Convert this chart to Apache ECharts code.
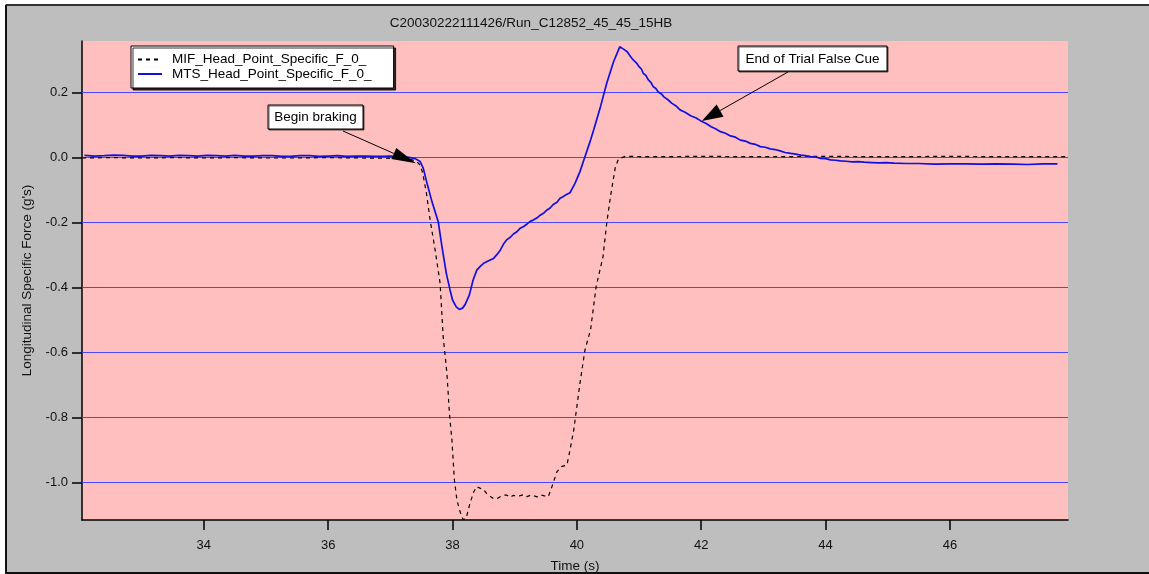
<!DOCTYPE html>
<html><head><meta charset="utf-8">
<script src="https://cdn.jsdelivr.net/npm/echarts@6/dist/echarts.min.js"></script>
<style>html,body{margin:0;padding:0;background:#fff}#c{width:1149px;height:574px}</style>
</head><body><div id="c"></div>
<script>
const titleText = 'C20030222111426/Run_C12852_45_45_15HB';
const xAxisName = 'Time (s)';
const yAxisName = "Longitudinal Specific Force (g's)";
const xTicks = [34, 36, 38, 40, 42, 44, 46];
const yTicks = [-1.0, -0.8, -0.6, -0.4, -0.2, 0.0, 0.2];
const mifName = 'MIF_Head_Point_Specific_F_0_';
const mtsName = 'MTS_Head_Point_Specific_F_0_';

const mifTime = [32.04,32.5,33.0,33.5,34.0,34.5,35.0,35.5,36.0,36.5,
  37.0,37.3,37.42,37.48,37.52,37.58,37.64,37.72,37.80,37.85,
  37.91,37.95,37.99,38.03,38.07,38.12,38.17,38.22,38.28,38.34,
  38.39,38.44,38.50,38.55,38.61,38.66,38.71,38.76,38.82,38.87,
  38.93,38.98,39.04,39.09,39.14,39.20,39.25,39.30,39.36,39.42,
  39.48,39.54,39.60,39.68,39.76,39.84,39.89,39.95,40.00,40.05,
  40.13,40.22,40.31,40.42,40.48,40.54,40.62,40.67,40.78,41.2,
  42,43,44,45,46,47,47.9];
const mifValue = [-0.002,-0.001,-0.002,-0.001,-0.002,-0.001,-0.002,-0.002,-0.001,-0.002,
  -0.003,-0.005,-0.012,-0.024,-0.048,-0.11,-0.193,-0.285,-0.387,-0.553,
  -0.665,-0.788,-0.87,-0.993,-1.054,-1.09,-1.115,-1.11,-1.065,-1.03,
  -1.013,-1.018,-1.022,-1.035,-1.044,-1.05,-1.051,-1.045,-1.04,-1.039,
  -1.046,-1.040,-1.043,-1.041,-1.038,-1.044,-1.040,-1.041,-1.045,-1.039,
  -1.042,-1.044,-1.013,-0.967,-0.951,-0.947,-0.90,-0.839,-0.767,-0.695,
  -0.593,-0.531,-0.398,-0.306,-0.203,-0.121,-0.029,-0.005,0.003,0.002,
  0.003,0.002,0.003,0.002,0.003,0.002,0.002];

const mtsTime = [32.08,32.25,32.4,32.55,32.7,32.85,33.0,33.15,33.3,33.45,
  33.6,33.75,33.9,34.05,34.2,34.35,34.5,34.65,34.8,34.95,
  35.1,35.25,35.4,35.55,35.7,35.85,36.0,36.15,36.3,36.45,
  36.6,36.75,36.9,37.0,37.1,37.2,37.3,37.4,
  37.48,37.53,37.59,37.67,37.77,37.83,37.90,37.96,38.0,38.06,
  38.11,38.16,38.20,38.27,38.33,38.39,38.45,38.50,38.58,38.66,
  38.72,38.77,38.82,38.87,38.93,38.98,39.04,39.09,39.15,39.2,39.25,39.30,39.36,39.41,39.47,39.52,39.57,39.62,
  39.68,39.73,39.77,39.81,39.89,39.97,40.05,40.13,40.22,40.27,40.38,40.48,
  40.59,40.69,40.75,40.81,40.86,40.91,40.96,41.0,41.04,41.07,41.11,41.15,41.19,41.23,41.27,41.31,41.36,
  41.40,41.46,41.53,41.59,41.66,41.74,41.83,41.92,42.01,42.08,42.16,42.23,42.31,42.39,42.47,42.55,42.63,42.71,42.79,42.87,
  42.95,43.03,43.11,43.19,43.27,43.35,43.44,43.52,43.60,43.68,43.76,43.84,43.92,44.0,44.08,44.16,44.24,44.33,44.43,44.52,
  44.62,44.74,44.86,44.98,45.10,45.3,45.5,45.75,46.0,46.25,46.5,46.75,47.0,47.25,47.5,47.73];
const mtsValue = [0.006,0.004,0.005,0.007,0.006,0.004,0.004,0.006,0.005,0.004,
  0.006,0.005,0.004,0.006,0.005,0.004,0.006,0.004,0.004,0.005,
  0.005,0.003,0.003,0.005,0.005,0.003,0.004,0.005,0.003,0.004,
  0.004,0.003,0.003,0.004,0.002,0.002,0.0,-0.004,
  -0.013,-0.034,-0.08,-0.137,-0.198,-0.275,-0.357,-0.408,-0.439,-0.46,
  -0.468,-0.464,-0.454,-0.424,-0.378,-0.347,-0.335,-0.326,-0.318,-0.311,
  -0.298,-0.285,-0.267,-0.254,-0.246,-0.236,-0.228,-0.218,-0.212,-0.205,-0.197,-0.193,-0.186,-0.178,-0.171,-0.162,-0.156,-0.145,
  -0.138,-0.126,-0.122,-0.117,-0.109,-0.08,-0.044,0.002,0.053,0.084,0.156,0.228,
  0.294,0.340,0.333,0.325,0.311,0.299,0.290,0.279,0.271,0.258,0.252,0.238,0.231,0.217,0.212,0.201,0.195,
  0.186,0.178,0.166,0.159,0.146,0.139,0.128,0.121,0.110,0.104,0.094,0.088,0.079,0.074,0.066,0.062,0.053,0.050,0.043,0.040,
  0.033,0.031,0.026,0.024,0.020,0.015,0.012,0.010,0.007,0.005,0.002,0.001,-0.003,-0.004,-0.008,-0.009,-0.011,-0.012,-0.014,-0.013,
  -0.015,-0.016,-0.017,-0.016,-0.018,-0.019,-0.019,-0.021,-0.020,-0.020,-0.021,-0.020,-0.021,-0.022,-0.020,-0.020];

const annotationText = ['Begin braking', 'End of Trial False Cue'];
const annotationX = [37.41, 42.01];
const annotationY = [-0.018, 0.112];

const FONT = "'Liberation Sans', Arial, sans-serif";
const zip = (a, b) => a.map((t, i) => [t, b[i]]);

const chart = echarts.init(document.getElementById('c'), null, {renderer: 'canvas'});
const option = {
  animation: false,
  backgroundColor: '#bebebe',
  textStyle: {fontFamily: FONT},
  grid: {left: 82, top: 41, right: 81, bottom: 54, show: true, backgroundColor: '#ffbfbf', borderWidth: 0,
    containLabel: false, outerBoundsMode: 'none'},
  legend: {
    left: 131, top: 46, orient: 'vertical', selectedMode: false,
    data: [mifName, mtsName],
    backgroundColor: '#fff', borderColor: '#000', borderWidth: 1,
    padding: [6.5, 22, 7, 6], itemWidth: 24, itemHeight: 14, itemGap: 0.5,
    itemStyle: {opacity: 0},
    shadowColor: 'rgba(0,0,0,0.8)', shadowOffsetX: 2, shadowOffsetY: 2, shadowBlur: 0,
    textStyle: {fontFamily: FONT, fontSize: 13.5, color: '#000', padding: [0, 0, 0, 5]}
  },
  xAxis: {
    type: 'value', min: 32.04, max: 47.9,
    name: xAxisName, nameLocation: 'middle', nameGap: 39,
    nameTextStyle: {fontFamily: FONT, fontSize: 13.5, color: '#111'},
    axisLine: {show: true, onZero: false, lineStyle: {color: '#000', width: 1.5}},
    axisTick: {show: true, length: 10, customValues: xTicks, lineStyle: {color: '#000', width: 1.5}},
    axisLabel: {customValues: xTicks, fontSize: 13, color: '#111', margin: 19, fontFamily: FONT, formatter: v => String(v)},
    splitLine: {show: false}
  },
  yAxis: {
    type: 'value', min: -1.116, max: 0.358,
    name: yAxisName, nameLocation: 'middle', nameGap: 44, nameRotate: 90,
    nameTextStyle: {fontFamily: FONT, fontSize: 13.5, color: '#111'},
    axisLine: {show: true, onZero: false, lineStyle: {color: '#000', width: 1.5}},
    axisTick: {show: true, length: 10, customValues: yTicks, lineStyle: {color: '#000', width: 1.5}},
    axisLabel: {customValues: yTicks, fontSize: 13, color: '#111', margin: 14, fontFamily: FONT, formatter: v => v.toFixed(1)},
    splitLine: {show: false}
  },
  series: [
    {
      name: mifName, type: 'line', symbol: 'none', z: 3,
      data: zip(mifTime, mifValue),
      lineStyle: {color: '#000', width: 1.2, type: [4, 4]},
      itemStyle: {color: '#000'}
    },
    {
      name: mtsName, type: 'line', symbol: 'none', z: 4,
      data: zip(mtsTime, mtsValue),
      lineStyle: {color: '#1010e0', width: 1.7},
      itemStyle: {color: '#1010e0'}
    }
  ]
};
chart.setOption(option);

const gridRect = chart.getModel().getComponent('grid').coordinateSystem.getRect();

// frame + title
const graphics = [
  {type: 'rect', shape: {x: 0, y: 0, width: 1149, height: 4}, style: {fill: '#fff'}, z: 100},
  {type: 'rect', shape: {x: 0, y: 0, width: 5, height: 574}, style: {fill: '#fff'}, z: 100},
  {type: 'line', shape: {x1: 6, y1: 5, x2: 1149, y2: 5}, style: {stroke: '#333', lineWidth: 2}, z: 100},
  {type: 'line', shape: {x1: 6, y1: 5, x2: 6, y2: 574}, style: {stroke: '#111', lineWidth: 2}, z: 100},
  {type: 'line', shape: {x1: 6, y1: 573, x2: 1149, y2: 573}, style: {stroke: '#111', lineWidth: 2}, z: 100},
  {type: 'text', x: 531, y: 23, z: 100, style: {text: titleText, font: '13.5px ' + FONT, fill: '#111', align: 'center', verticalAlign: 'middle', textAlign: 'center', textVerticalAlign: 'middle'}}
];

// horizontal grid lines at y ticks (through the axis scale)
yTicks.forEach(v => {
  const py = Math.round(chart.convertToPixel({yAxisIndex: 0}, v)) + 0.5;
  graphics.push({type: 'line', z: 1, silent: true,
    shape: {x1: gridRect.x, y1: py, x2: gridRect.x + gridRect.width, y2: py},
    style: {stroke: '#4848ff', lineWidth: 1}});
});

// annotation boxes (pixel positions) with arrow tails
const boxes = [
  {x: 268, y: 105, w: 95, h: 24, tail: [343, 131], head: 24, hw: 6},
  {x: 738, y: 46, w: 149, h: 25, tail: [788, 72], head: 21, hw: 7}
];
boxes.forEach((b, i) => {
  graphics.push({type: 'rect', z: 110, shape: {x: b.x, y: b.y, width: b.w, height: b.h},
    style: {fill: '#fff', stroke: '#000', lineWidth: 1, shadowColor: 'rgba(0,0,0,0.6)', shadowOffsetX: 1, shadowOffsetY: 1, shadowBlur: 0}});
  graphics.push({type: 'text', z: 111, x: b.x + b.w / 2, y: b.y + b.h / 2 + 0.5,
    style: {text: annotationText[i], font: '13.5px ' + FONT, fill: '#000', align: 'center', verticalAlign: 'middle', textAlign: 'center', textVerticalAlign: 'middle'}});
  const tip = chart.convertToPixel({gridIndex: 0}, [annotationX[i], annotationY[i]]);
  const dx = tip[0] - b.tail[0], dy = tip[1] - b.tail[1];
  const L = Math.hypot(dx, dy), ux = dx / L, uy = dy / L;
  const bx = tip[0] - ux * b.head, by = tip[1] - uy * b.head;
  graphics.push({type: 'line', z: 110, shape: {x1: b.tail[0], y1: b.tail[1], x2: bx, y2: by}, style: {stroke: '#000', lineWidth: 1}});
  graphics.push({type: 'polygon', z: 110, shape: {points: [tip, [bx - uy * b.hw, by + ux * b.hw], [bx + uy * b.hw, by - ux * b.hw]]}, style: {fill: '#000'}});
});
chart.setOption({graphic: graphics});
</script>
</body></html>
